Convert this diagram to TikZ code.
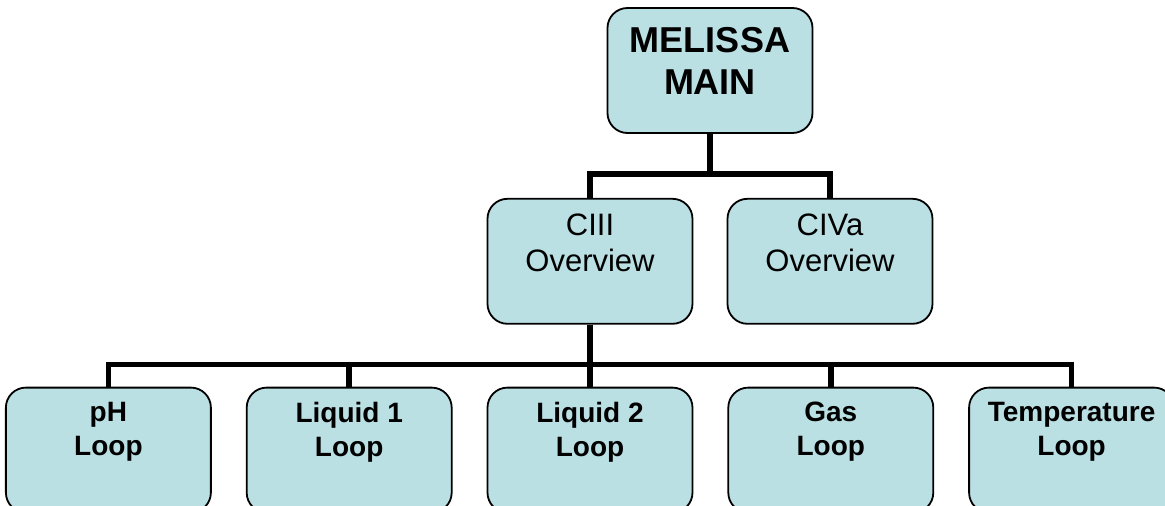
\documentclass[tikz,border=0pt]{standalone}
\usepackage{fontspec}
\setmainfont{Liberation Sans}
\usepackage{xcolor}
\usetikzlibrary{positioning}
\definecolor{boxfill}{RGB}{186,224,228}
\newcommand{\lowgap}[1]{\rule[-#1]{0pt}{0pt}}

\begin{document}
\begin{tikzpicture}[
  chartbox/.style={rectangle, draw, line width=1.8pt, rounded corners=20pt, fill=boxfill, align=center, minimum width=205pt, minimum height=125pt, inner sep=0pt},
  mainbox/.style={chartbox, font=\fontsize{36}{42}\selectfont\bfseries},
  viewbox/.style={chartbox, font=\fontsize{31}{36}\selectfont},
  loopbox/.style={chartbox, font=\fontsize{28}{34}\selectfont\bfseries},
  conn/.style={line width=5.5pt}
]
\useasboundingbox (-710pt,70.5pt) rectangle (455pt,-435.5pt);
\node[mainbox] (main) at (0,0) {MELISSA\\MAIN\lowgap{20pt}};
\node[viewbox, below=64pt of main, xshift=-120pt] (ciii) {CIII\\Overview\lowgap{37pt}};
\node[viewbox, below=64pt of main, xshift=120pt] (civa) {CIVa\\Overview\lowgap{37pt}};
\node[loopbox, below=62pt of ciii] (liq2) {Liquid 2\\Loop\lowgap{42pt}};
\node[loopbox, left=34pt of liq2] (liq1) {Liquid 1\\Loop\lowgap{42pt}};
\node[loopbox, left=34pt of liq1] (ph) {pH\\Loop\lowgap{42pt}};
\node[loopbox, right=34pt of liq2] (gas) {Gas\\Loop\lowgap{42pt}};
\node[loopbox, right=34pt of gas] (temp) {Temperature\\Loop\lowgap{42pt}};

\draw[conn] (main.south) -- ++(0,-40pt) -| (ciii.north);
\draw[conn] (main.south) -- ++(0,-40pt) -| (civa.north);
\foreach \n in {ph,liq1,liq2,gas,temp}
  \draw[conn] (ciii.south) -- ++(0,-40pt) -| (\n.north);
\end{tikzpicture}
\end{document}
